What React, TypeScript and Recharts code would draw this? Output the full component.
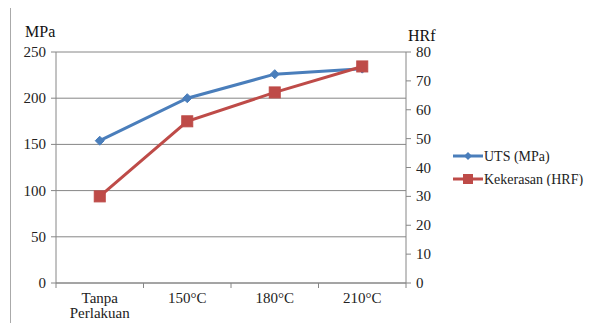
import React from "react";
import { LineChart, Line, XAxis, YAxis, CartesianGrid, Legend } from "recharts";

const categories = ["Tanpa Perlakuan", "150°C", "180°C", "210°C"];
const utsValues = [154, 200, 226, 232];
const hrfValues = [30, 56, 66, 75];
const leftTicks = [0, 50, 100, 150, 200, 250];
const rightTicks = [0, 10, 20, 30, 40, 50, 60, 70, 80];

const data = categories.map((c, i) => ({ cat: c, uts: utsValues[i], hrf: hrfValues[i] }));

const FONT = '"Liberation Serif", "Times New Roman", Times, serif';
const BLUE = "#4a7ebb";
const RED = "#be4b48";
const AXIS = "#868686";
const TXT = { fontFamily: FONT, fontSize: 15 };
const LEG = { fontFamily: FONT, fontSize: 14 };

const XTick = (props: any) => {
  const { x, y, payload, index, visibleTicksCount } = props;
  const half = 87.5 / 2;
  const words = payload.value === "Tanpa Perlakuan" ? ["Tanpa", "Perlakuan"] : [payload.value];
  const top = y - 8;
  return (
    <g>
      <line x1={x - half} y1={top} x2={x - half} y2={top + 5} stroke={AXIS} />
      {index === (visibleTicksCount ?? 4) - 1 && (
        <line x1={x + half} y1={top} x2={x + half} y2={top + 5} stroke={AXIS} />
      )}
      <text x={x} y={top + 20} textAnchor="middle" style={TXT} fill="#222">
        {words.map((w: string, i: number) => (
          <tspan key={i} x={x} dy={i === 0 ? 0 : 15}>{w}</tspan>
        ))}
      </text>
    </g>
  );
};

const LTick = (props: any) => {
  const { x, y, payload } = props;
  return <text x={x - 3} y={y + 5} textAnchor="end" style={TXT} fill="#222">{payload.value}</text>;
};
const RTick = (props: any) => {
  const { x, y, payload } = props;
  return <text x={x + 3} y={y + 5} textAnchor="start" style={TXT} fill="#222">{payload.value}</text>;
};

const Diamond = (props: any) => {
  const { cx, cy } = props;
  const r = 4.5;
  return <path d={`M${cx},${cy - r}L${cx + r},${cy}L${cx},${cy + r}L${cx - r},${cy}Z`} fill={BLUE} stroke={BLUE} />;
};
const Square = (props: any) => {
  const { cx, cy } = props;
  const s = 5.5;
  return <rect x={cx - s} y={cy - s} width={2 * s} height={2 * s} fill={RED} stroke={RED} />;
};

const LegendContent = () => (
  <svg width={139} height={40}>
    <line x1={0} y1={10} x2={30} y2={10} stroke={BLUE} strokeWidth={3} />
    <path d="M15,6L19,10L15,14L11,10Z" fill={BLUE} />
    <text x={31} y={15} style={LEG} fill="#222">UTS (MPa)</text>
    <line x1={0} y1={33} x2={30} y2={33} stroke={RED} strokeWidth={3} />
    <rect x={10} y={28} width={10} height={10} fill={RED} />
    <text x={31} y={38} style={LEG} fill="#222">Kekerasan (HRF)</text>
  </svg>
);

export default function App() {
  return (
    <div style={{ position: "absolute", left: 0, top: 0, width: 592, height: 323, background: "#fff", overflow: "hidden" }}>
      <div style={{ position: "absolute", left: 10, top: 8, width: 0, height: 315, borderLeft: "1px solid #aaa" }} />
      <div style={{ position: "absolute", left: 25, top: 23, fontFamily: FONT, fontSize: 16, color: "#111" }}>MPa</div>
      <div style={{ position: "absolute", left: 408, top: 27, fontFamily: FONT, fontSize: 16, color: "#111" }}>HRf</div>
      <LineChart width={592} height={323} data={data} margin={{ top: 52, right: 0, bottom: 0, left: 0 }}>
        <CartesianGrid horizontal vertical={false} stroke={AXIS} yAxisId="left" />
        <XAxis dataKey="cat" scale="band" tick={<XTick />} stroke={AXIS} tickLine={false} interval={0} height={40} />
        <YAxis yAxisId="left" domain={[0, 250]} ticks={leftTicks} width={56} stroke={AXIS} tickSize={5}
          tick={<LTick />} interval={0} />
        <YAxis yAxisId="right" orientation="right" domain={[0, 80]} ticks={rightTicks} width={186} stroke={AXIS} tickSize={5}
          tick={<RTick />} interval={0} />
        <Line yAxisId="left" dataKey="uts" stroke={BLUE} strokeWidth={3} dot={<Diamond />} isAnimationActive={false} />
        <Line yAxisId="right" dataKey="hrf" stroke={RED} strokeWidth={3} dot={<Square />} isAnimationActive={false} />
        <Legend layout="vertical" align="center" verticalAlign="middle" content={<LegendContent />}
          wrapperStyle={{ left: 453, top: 146, width: 139, height: 40 }} />
      </LineChart>
    </div>
  );
}
